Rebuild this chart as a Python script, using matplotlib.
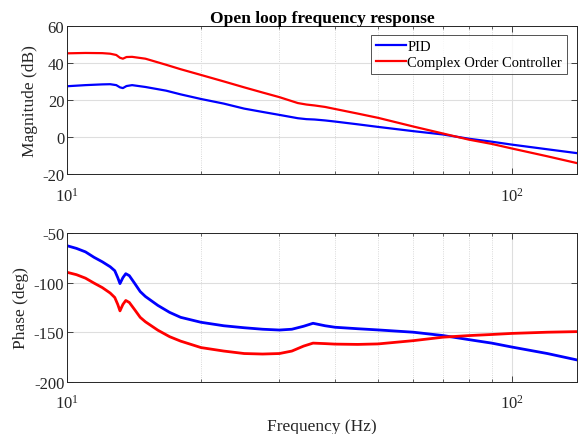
import matplotlib
matplotlib.use("Agg")
import matplotlib.pyplot as plt
from matplotlib.ticker import LogLocator, NullFormatter, FixedLocator

plt.rcParams['font.family'] = ['Liberation Serif', 'DejaVu Serif']
plt.rcParams['mathtext.fontset'] = 'custom'
plt.rcParams['mathtext.rm'] = 'Liberation Serif'
plt.rcParams['mathtext.it'] = 'Liberation Serif:italic'
plt.rcParams['axes.unicode_minus'] = False

# magnitude data (dB)
f_mag = [10, 11, 12, 12.5, 12.9, 13.15, 13.35, 13.6, 14, 15, 16.7, 18, 20, 22.5, 25,
         27.5, 30, 33, 34.5, 36, 38, 40, 45, 50, 60, 70, 80, 90, 100, 120, 140]
mag_pid = [27.4, 28.0, 28.4, 28.5, 28.0, 26.8, 26.4, 27.5, 28.0, 27.0, 25.0, 23.0, 20.5,
           18.0, 15.3, 13.5, 11.9, 10.1, 9.6, 9.4, 8.9, 8.3, 6.8, 5.4, 3.1, 1.3, -1.0,
           -2.6, -4.2, -6.7, -8.8]
mag_coc = [45.2, 45.4, 45.3, 45.0, 44.3, 42.8, 42.3, 43.2, 43.3, 42.3, 39.0, 36.6, 33.5,
           30.0, 26.8, 24.0, 21.5, 18.3, 17.5, 17.0, 16.2, 15.1, 12.6, 10.3, 5.6, 1.8,
           -1.5, -3.8, -6.3, -10.5, -14.2]

# phase data (deg)
f_ph = [10, 10.5, 11, 11.5, 12, 12.5, 12.8, 13.0, 13.15, 13.35, 13.55, 13.8, 14.2, 14.6,
        15, 16, 17, 18, 20, 22.5, 25, 27.5, 30, 32, 34, 35.7, 38, 40, 45, 50, 60, 70,
        80, 90, 100, 120, 140]
ph_pid = [-62.8, -65.5, -69, -74.5, -79, -84, -88, -95, -101, -95, -91, -93, -101, -109,
          -114, -123, -130, -135, -140, -143.5, -145.5, -147, -147.8, -147, -144, -141,
          -143.5, -145, -146.5, -147.7, -150, -153.4, -157.5, -161, -165, -171.5, -178]
ph_coc = [-89.6, -92, -95.5, -100.5, -105, -110.5, -115, -122, -128.5, -122, -118, -120,
          -127.5, -135, -139.5, -148, -154.5, -159, -165.5, -169, -171.5, -172, -171.5,
          -169, -164, -161, -161.5, -162, -162.3, -161.8, -158.5, -155, -153.4, -152.3,
          -151.2, -150, -149.4]

labels = ['PID', 'Complex Order Controller']
dark = '0.15'

fig = plt.figure(figsize=(5.83, 4.35), dpi=100)
ax1 = fig.add_axes((0.115, 0.598, 0.875, 0.340))
ax2 = fig.add_axes((0.115, 0.120, 0.875, 0.342))

ax1.plot(f_mag, mag_pid, color=(0, 0, 1), lw=1.6)
ax1.plot(f_mag, mag_coc, color=(1, 0, 0), lw=1.6)
ax2.plot(f_ph, ph_pid, color=(0, 0, 1), lw=2.0)
ax2.plot(f_ph, ph_coc, color=(1, 0, 0), lw=2.0)

for ax in (ax1, ax2):
    ax.set_xscale('log')
    ax.set_xlim(10, 140)
    ax.xaxis.set_major_locator(FixedLocator([10, 100]))
    ax.xaxis.set_minor_locator(LogLocator(base=10, subs=range(2, 10)))
    ax.xaxis.set_minor_formatter(NullFormatter())
    ax.grid(True, which='major', color='0.87', lw=0.8, ls='-')
    ax.grid(True, which='minor', axis='x', color='0.8', lw=0.6, ls=':')
    ax.set_axisbelow(True)
    ax.tick_params(which='both', direction='in', top=True, right=True,
                   colors=dark, labelsize=12, labelcolor=dark)
    ax.tick_params(which='major', length=4, width=0.6)
    ax.tick_params(which='minor', length=2, width=0.5)
    ax.tick_params(axis='x', pad=9)
    ax.tick_params(axis='y', pad=2)
    for s in ax.spines.values():
        s.set_color(dark)
        s.set_linewidth(0.7)

ax1.set_ylim(-20, 60)
ax1.set_yticks([-20, 0, 20, 40, 60])
ax1.set_ylabel('Magnitude (dB)', fontsize=12.5, color=dark, labelpad=3)
ax1.set_title('Open loop frequency response', fontsize=12.5, fontweight='bold', pad=3)
leg = ax1.legend(labels, loc='upper right', bbox_to_anchor=(0.980, 0.940), fontsize=10.5,
                 frameon=True, fancybox=False, edgecolor=dark, borderpad=0.35,
                 labelspacing=0.2, handlelength=2.1, handletextpad=0.05, borderaxespad=0)
leg.get_frame().set_linewidth(0.7)

ax2.set_ylim(-200, -50)
ax2.set_yticks([-200, -150, -100, -50])
ax2.set_ylabel('Phase (deg)', fontsize=12.5, color=dark, labelpad=3)
ax2.set_xlabel('Frequency (Hz)', fontsize=12.5, color=dark, labelpad=4)

fig.savefig('out.png', dpi=100)
